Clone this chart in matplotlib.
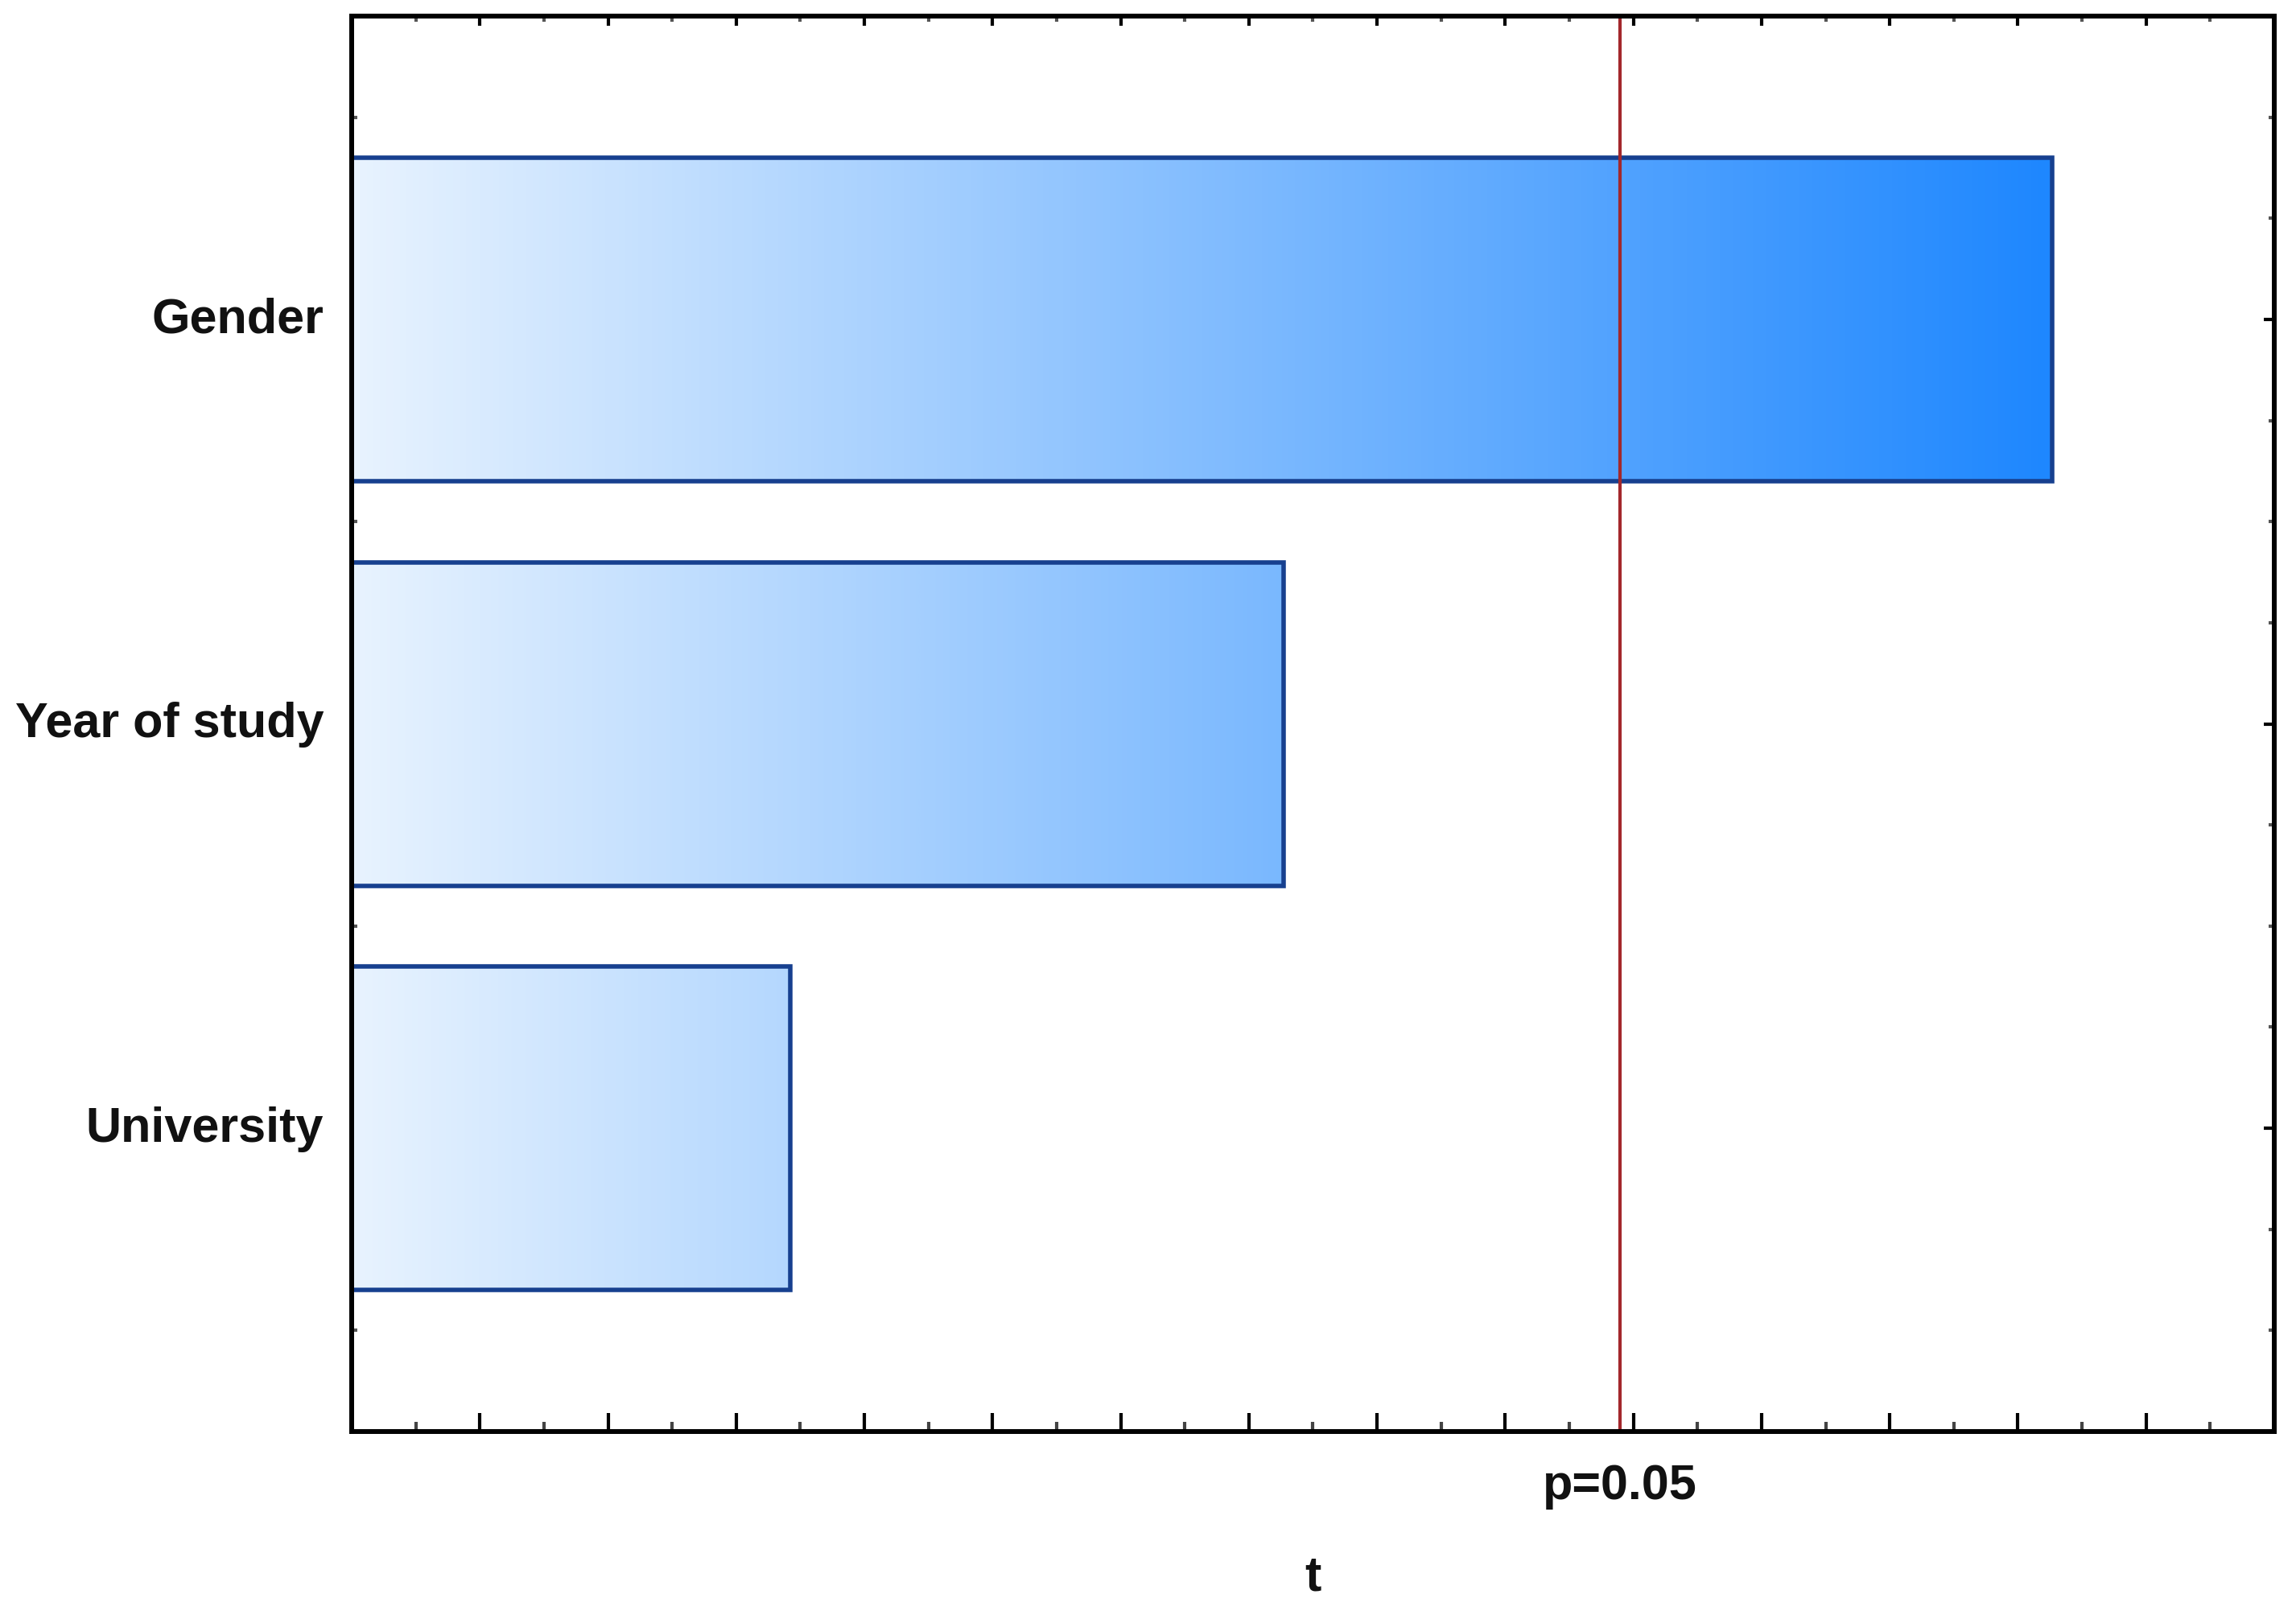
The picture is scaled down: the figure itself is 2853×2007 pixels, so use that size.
import numpy as np
import matplotlib
matplotlib.use("Agg")
import matplotlib.pyplot as plt
from matplotlib.colors import LinearSegmentedColormap, Normalize
from matplotlib.ticker import MultipleLocator, NullFormatter
from matplotlib.transforms import blended_transform_factory, ScaledTranslation

# ---- data ----
factors = ["Gender", "Year of study", "University"]
t_values = [2.654, 1.454, 0.684]
p_crit_t = 1.979
crit_label = "p=0.05"
x_label = "t"
x_max = 3.0

# ---- style ----
plt.rcParams['font.family'] = ['Liberation Sans', 'DejaVu Sans']
edge_col = '#17408f'
red_col = '#a3282c'
cmap = LinearSegmentedColormap.from_list('grad', ['#e8f3fe', '#1e87ff'])
norm = Normalize(0, max(t_values))

fig = plt.figure(figsize=(28.53, 20.07), dpi=100)
ax = fig.add_axes([0.1532, 0.1136, 0.8373, 0.8764])

ypos = np.arange(len(factors))
bar_h = 0.8
bars = ax.barh(ypos, t_values, height=bar_h, facecolor='none',
               edgecolor=edge_col, linewidth=4.0, zorder=3)

for rect, v in zip(bars.patches, t_values):
    y0 = rect.get_y()
    grad = np.linspace(0, v, 512).reshape(1, -1)
    im = ax.imshow(grad, cmap=cmap, norm=norm, aspect='auto',
                   extent=[0, v, y0 + bar_h, y0], interpolation='bicubic',
                   zorder=2)
    im.set_clip_path(rect)

ax.axvline(p_crit_t, color=red_col, linewidth=3.0, zorder=4)

ax.set_xlim(0, x_max)
ax.set_ylim(len(factors) - 0.25, -0.75)

# x ticks (bottom)
ax.xaxis.set_major_locator(MultipleLocator(0.2))
ax.xaxis.set_minor_locator(MultipleLocator(0.1))
ax.xaxis.set_major_formatter(NullFormatter())
ax.tick_params(axis='x', which='major', direction='in', length=16.5, width=3.0,
               color='black', bottom=True, top=False)
ax.tick_params(axis='x', which='minor', direction='in', length=8.5, width=3.0,
               color='#444444', bottom=True, top=False)

# top ticks (shorter)
secx = ax.secondary_xaxis('top')
secx.xaxis.set_major_locator(MultipleLocator(0.2))
secx.xaxis.set_minor_locator(MultipleLocator(0.1))
secx.xaxis.set_major_formatter(NullFormatter())
secx.tick_params(axis='x', which='major', direction='in', length=8.6, width=3.0,
                 color='black', labeltop=False)
secx.tick_params(axis='x', which='minor', direction='in', length=5.0, width=3.0,
                 color='#555555')
for s in secx.spines.values():
    s.set_linewidth(4.3)

# y ticks
ax.set_yticks(ypos)
ax.set_yticklabels(factors, fontsize=44, fontweight='bold', color='#111111')
ax.yaxis.set_minor_locator(MultipleLocator(0.25))
ax.tick_params(axis='y', which='major', direction='in', length=9.4, width=3.0,
               color='black', left=True, right=True, pad=25)
ax.tick_params(axis='y', which='minor', direction='in', length=5.0, width=3.0,
               color='#555555', left=True, right=True)
shift = ScaledTranslation(0, 4 / 72, fig.dpi_scale_trans)
for lab in ax.get_yticklabels():
    lab.set_transform(lab.get_transform() + shift)

for s in ax.spines.values():
    s.set_linewidth(4.3)
    s.set_color('black')
    s.set_zorder(5)

trans = blended_transform_factory(ax.transData, ax.transAxes)
ax.text(p_crit_t, -0.0478, crit_label, transform=trans, ha='center',
        va='baseline', fontsize=44, fontweight='bold', color='#111111')
ax.text(0.5, -0.112, x_label, transform=ax.transAxes, ha='center',
        va='baseline', fontsize=44, fontweight='bold', color='#111111')

fig.savefig('out.png', dpi=100, facecolor='white')
